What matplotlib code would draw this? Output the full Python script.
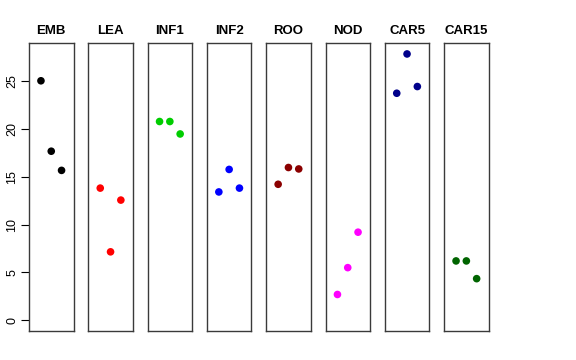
import matplotlib
matplotlib.use("Agg")
import matplotlib.pyplot as plt

# data
groups = ["EMB", "LEA", "INF1", "INF2", "ROO", "NOD", "CAR5", "CAR15"]
colors = ["black", "red", "#00CD00", "blue", "#8B0000", "magenta", "#00008B", "#006400"]
emb = [25.0, 17.65, 15.65]
lea = [13.8, 7.15, 12.55]
inf1 = [20.75, 20.75, 19.45]
inf2 = [13.4, 15.75, 13.8]
roo = [14.2, 15.95, 15.8]
nod = [2.7, 5.5, 9.2]
car5 = [23.7, 27.8, 24.4]
car15 = [6.2, 6.2, 4.35]
values = [emb, lea, inf1, inf2, roo, nod, car5, car15]
xpos = [1, 2, 3]
yticks = [0, 5, 10, 15, 20, 25]

plt.rcParams["font.family"] = ["Liberation Sans", "DejaVu Sans"]

W, H = 576, 360
fig = plt.figure(figsize=(W / 100, H / 100), dpi=100)

# panel geometry in pixels
left0 = 29
pw = 44.5
step = 59.3
top = 43.3
bottom = 331

ymax = max(max(v) for v in values)
pad = 0.04 * ymax

for i, (name, col, vals) in enumerate(zip(groups, colors, values)):
    x0 = left0 + i * step
    ax = fig.add_axes([x0 / W, 1 - bottom / H, pw / W, (bottom - top) / H])
    ax.scatter(xpos, vals, s=30, color=col, edgecolors="none", zorder=3)
    ax.set_xlim(-0.16, 4.16)
    ax.set_ylim(0 - pad, ymax + pad)
    ax.set_xticks([])
    for sp in ax.spines.values():
        sp.set_color("#3a3a3a")
        sp.set_linewidth(1.0)
    ax.set_title(name, fontsize=9.5, fontweight="bold", pad=7)
    if i == 0:
        ax.set_yticks(yticks)
        ax.set_yticklabels([str(t) for t in yticks], rotation=90, va="center", fontsize=9)
        ax.tick_params(axis="y", length=5.8, width=0.8, pad=2)
    else:
        ax.set_yticks([])

fig.savefig("out.png", dpi=100)
